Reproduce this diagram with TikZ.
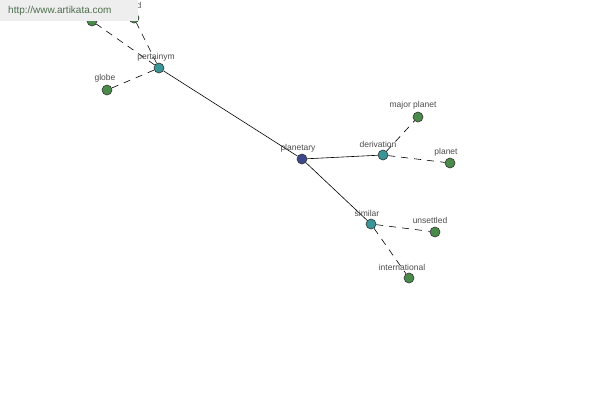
\documentclass[tikz,border=0pt]{standalone}
\usepackage{fontspec}
\setmainfont{Liberation Sans}
\begin{document}
\begin{tikzpicture}[x=1pt,y=-1pt,
  vtx/.style={circle,draw=black!80,line width=0.6pt,minimum size=10pt,inner sep=0pt},
  hub/.style={vtx,fill=hubc},
  mid/.style={vtx,fill=midc},
  leaf/.style={vtx,fill=leafc},
  lbl/.style={font=\fontsize{8.5}{9}\selectfont,text=black!70,inner sep=0pt},
  solidedge/.style={draw=black,line width=0.6pt},
  dashedge/.style={draw=black,line width=0.6pt,dash pattern=on 7pt off 6pt}]
\definecolor{hubc}{HTML}{3C4A8C}
\definecolor{midc}{HTML}{3A9696}
\definecolor{leafc}{HTML}{4A8A4A}
\definecolor{bannerc}{HTML}{EEEEEE}
\definecolor{urlc}{HTML}{4E6E4E}
\useasboundingbox (0,0) rectangle (600,400);
\fill[white] (0,0) rectangle (600,400);
% nodes
\node[hub]  (planetary) at (302,159) {};
\node[mid]  (pertainym) at (159,68) {};
\node[leaf] (globe) at (107,90) {};
\node[leaf] (tl1) at (92,21) {};
\node[leaf] (tl2) at (134,18) {};
\node[mid]  (derivation) at (383,155) {};
\node[leaf] (major) at (418,117) {};
\node[leaf] (planet) at (450,163) {};
\node[mid]  (similar) at (371,224) {};
\node[leaf] (unsettled) at (435,232) {};
\node[leaf] (international) at (409,278) {};
% edges
\draw[solidedge] (planetary) -- (pertainym);
\draw[solidedge] (planetary) -- (derivation);
\draw[solidedge] (planetary) -- (similar);
\draw[dashedge] (pertainym) -- (globe);
\draw[dashedge] (pertainym) -- (tl1);
\draw[dashedge] (pertainym) -- (tl2);
\draw[dashedge] (derivation) -- (major);
\draw[dashedge] (derivation) -- (planet);
\draw[dashedge] (similar) -- (unsettled);
\draw[dashedge] (similar) -- (international);
% labels
\node[lbl] (lplanetary) at (298,148) {planetary};
\node[lbl] (lpertainym) at (156,57) {pertainym};
\node[lbl] (lglobe) at (105,78) {globe};
\node[lbl] (lderivation) at (378,144) {derivation};
\node[lbl] (lmajor) at (413,105) {major planet};
\node[lbl] (lplanet) at (446,152) {planet};
\node[lbl] (lsimilar) at (367,213) {similar};
\node[lbl] (lunsettled) at (430,220) {unsettled};
\node[lbl] (linternational) at (402,267) {international};
\node[lbl] (ltl2) at (139,5) {d};
% banner
\fill[bannerc] (0,0) rectangle (138,21);
\node[font=\fontsize{10}{11}\selectfont,text=urlc,anchor=west,inner sep=0pt] (url) at (8,11) {http://www.artikata.com};
\end{tikzpicture}
\end{document}
